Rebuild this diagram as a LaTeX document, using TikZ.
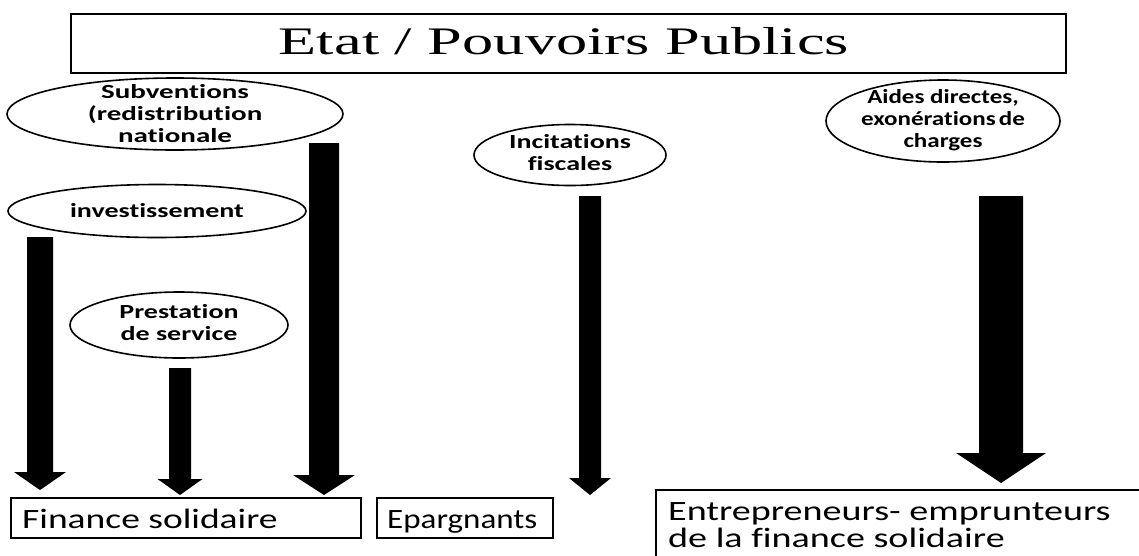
\documentclass[tikz,border=0pt]{standalone}
\usepackage{fontspec}
\usepackage{graphicx}
\setmainfont{Liberation Serif}
\newfontfamily\carl[Ligatures=NoCommon]{Carlito}
\usetikzlibrary{shapes.geometric,calc}
% #1 start coordinate, #2 tip coordinate, #3 half shaft, #4 half head, #5 head length
\newcommand{\fatarrow}[5]{%
  \fill (#1) ++(-#3,0) -- ($(#2)+(-#3,-#5)$) -- ($(#2)+(-#4,-#5)$) -- (#2)
    -- ($(#2)+(#4,-#5)$) -- ($(#2)+(#3,-#5)$) -- ($(#1)+(#3,0)$) -- cycle;}
\newcommand{\wide}[2]{\scalebox{#1}[1]{#2}}
\begin{document}
\begin{tikzpicture}[x=1pt,y=-1pt,
  oval/.style={draw, ellipse, line width=1.6pt, inner sep=0pt},
  ovaltext/.style={font=\carl\bfseries\fontsize{20}{22}\selectfont, inner sep=0pt},
  boxnode/.style={draw, rectangle, line width=1.6pt, inner sep=0pt, anchor=north west},
  boxtext/.style={font=\carl\fontsize{28}{27}\selectfont, inner sep=0pt, anchor=base west},
  titletext/.style={font=\fontsize{39}{39}\selectfont, inner sep=0pt, anchor=base}
]
\useasboundingbox (0,0) rectangle (1139,555);
\clip (0,0) rectangle (1139,555);

% title
\node[boxnode, minimum width=995pt, minimum height=59pt] (title) at (70,13) {};
\node[titletext] (titlet) at (564,54) {\wide{1.6}{Etat / Pouvoirs Publics}};

% ellipses
\node[oval, minimum width=336pt, minimum height=72pt] (sub) at (175,114) {};
\node[ovaltext] (subt) at ($(sub.center)+(0,2)$) {\wide{1.45}{\begin{tabular}{@{}c@{}}Subventions\\(redistribution\\nationale\end{tabular}}};

\node[oval, minimum width=298pt, minimum height=53pt] (inv) at (157,211) {};
\node[ovaltext] (invt) at (inv.center) {\wide{1.4}{investissement}};

\node[oval, minimum width=218pt, minimum height=66pt] (pre) at (179,325) {};
\node[ovaltext] (pret) at (pre.center) {\wide{1.4}{\begin{tabular}{@{}c@{}}Prestation\\de service\end{tabular}}};

\node[oval, minimum width=192pt, minimum height=61pt] (inc) at (570,155) {};
\node[ovaltext] (inct) at (inc.center) {\wide{1.4}{\begin{tabular}{@{}c@{}}Incitations\\fiscales\end{tabular}}};

\node[oval, minimum width=234pt, minimum height=82pt] (aid) at (943,121) {};
\node[ovaltext] (aidt) at (aid.center) {\wide{1.25}{\begin{tabular}{@{}c@{}}Aides directes,\\exonérations\kern-0.1em{} de\\charges\end{tabular}}};

% boxes
\node[boxnode, minimum width=350pt, minimum height=40pt] (fin) at (10,497) {};
\node[boxtext] (fint) at (22,528) {\wide{1.34}{Finance solidaire}};

\node[boxnode, minimum width=176pt, minimum height=40pt] (epa) at (376,497) {};
\node[boxtext] (epat) at (387,528) {\wide{1.18}{Epargnants}};

\node[boxnode, minimum width=520pt, minimum height=90pt] (ent) at (655,489) {};
\node[boxtext] (entt) at (668,520) {\wide{1.36}{\begin{tabular}[t]{@{}l@{}}Entrepreneurs- emprunteurs\\de la finance solidaire\end{tabular}}};

% arrows
\coordinate (a1s) at (40,237);
\coordinate (a1e) at ($(a1s |- fin.north)+(0,-7)$);
\fatarrow{a1s}{a1e}{13}{26}{18}
\coordinate (a2s) at (324,143);
\coordinate (a2e) at ($(a2s |- fin.north)+(0,-2)$);
\fatarrow{a2s}{a2e}{15}{31}{20}
\coordinate (a3s) at (180,368);
\coordinate (a3e) at ($(a3s |- fin.north)+(0,-2)$);
\fatarrow{a3s}{a3e}{11}{22.5}{16}
\coordinate (a4s) at (590,196);
\coordinate (a4e) at ($(a4s |- epa.north)+(0,-2)$);
\fatarrow{a4s}{a4e}{11}{21}{17}
\coordinate (a5s) at (1001,196);
\coordinate (a5e) at ($(a5s |- ent.north)+(0,-6)$);
\fatarrow{a5s}{a5e}{22}{45}{30}
\end{tikzpicture}
\end{document}
